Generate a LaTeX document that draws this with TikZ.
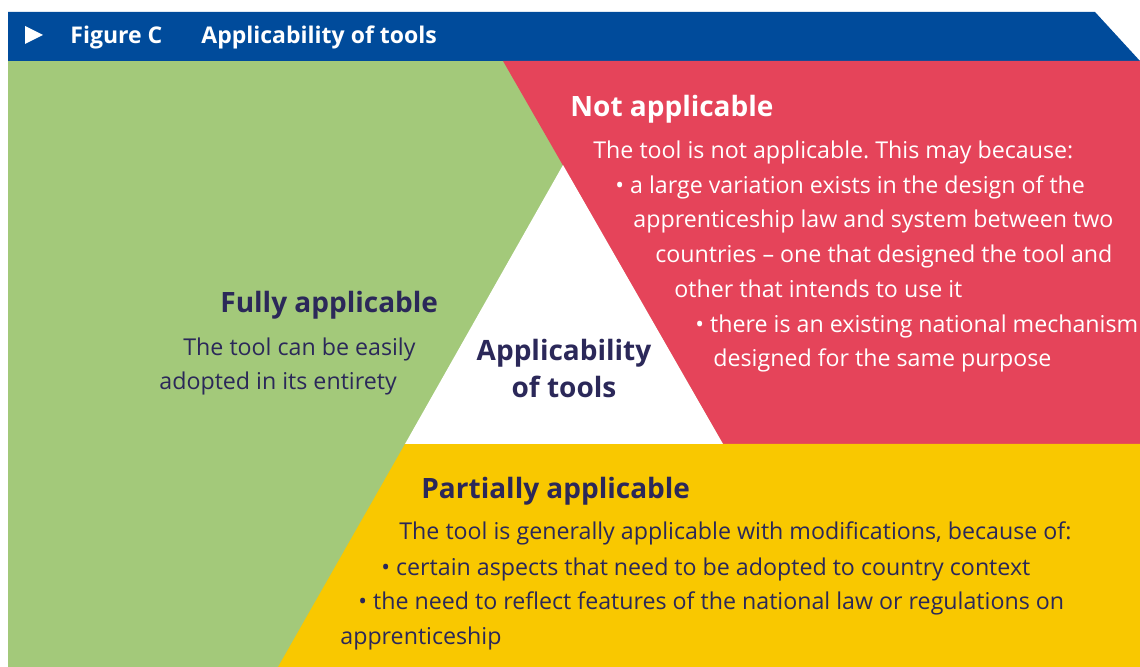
\documentclass[tikz,border=0pt]{standalone}
\usepackage{fontspec}
\setmainfont{Open Sans}
\usepackage{xcolor}
\usetikzlibrary{positioning}
\frenchspacing

\definecolor{figblue}{HTML}{004B9B}
\definecolor{figgreen}{HTML}{A3C97A}
\definecolor{figred}{HTML}{E5445A}
\definecolor{figyellow}{HTML}{F9C800}
\definecolor{figink}{HTML}{2B2859}

\begin{document}
\begin{tikzpicture}[
    x=0.5pt, y=-0.5pt,
    header_text/.style={anchor=base west, inner sep=0pt, text=white, font=\fontsize{11.5}{13}\selectfont\bfseries},
    heading/.style={anchor=base west, inner sep=0pt, font=\fontsize{14}{16}\selectfont\bfseries},
    body_line/.style={anchor=base west, inner sep=0pt, font=\fontsize{11.6}{14}\selectfont},
    hub_label/.style={anchor=base, inner sep=0pt, text=figink, font=\fontsize{14}{16}\selectfont\bfseries}
]

    % --- FRAME ---
    \useasboundingbox (0,0) rectangle (1140,667);

    % --- HEADER BAR ---
    \fill[figblue] (8,12) -- (1095,12) -- (1140,61) -- (8,61) -- cycle;
    \fill[white] (25,26) -- (43,35) -- (25,44) -- cycle;
    \node[header_text] (figno) at (70,44) {Figure C};
    \node[header_text] (figtitle) at (201,44) {Applicability of tools};

    % --- REGIONS ---
    \fill[figgreen] (8,61) rectangle (1140,667);                            % fully
    \fill[figred] (503,61) -- (1140,61) -- (1140,444) -- (723,444) -- cycle;  % not
    \fill[figyellow] (405,444) -- (1140,444) -- (1140,667) -- (278,667) -- cycle; % partially
    \fill[white] (563,165) -- (723,444) -- (405,444) -- cycle;               % hub

    % --- NOT APPLICABLE (red) ---
    \node[heading, text=white] (nothead) at (570,117) {Not applicable};
    \node[body_line, text=white] (not1) at (593,159) {The tool is not applicable. This may because:};
    \node[body_line, text=white] (not2) at (615,194) {• a large variation exists in the design of the};
    \node[body_line, text=white] (not3) at (633,228) {apprenticeship law and system between two};
    \node[body_line, text=white] (not4) at (655,263) {countries – one that designed the tool and};
    \node[body_line, text=white] (not5) at (674,298) {other that intends to use it};
    \node[body_line, text=white] (not6) at (695,333) {• there is an existing national mechanism};
    \node[body_line, text=white] (not7) at (713,367) {designed for the same purpose};

    % --- FULLY APPLICABLE (green) ---
    \node[heading, text=figink] (fullhead) at (220,313) {Fully applicable};
    \node[body_line, text=figink] (full1) at (183,356) {The tool can be easily};
    \node[body_line, text=figink] (full2) at (159,390) {adopted in its entirety};

    % --- HUB ---
    \node[hub_label] (hub1) at (564,361) {Applicability};
    \node[hub_label] (hub2) at (564,398) {of tools};

    % --- PARTIALLY APPLICABLE (yellow) ---
    \node[heading, text=figink] (parthead) at (421,499) {Partially applicable};
    \node[body_line, text=figink] (part1) at (399,540) {The tool is generally applicable with modifications, because of:};
    \node[body_line, text=figink] (part2) at (381,575) {• certain aspects that need to be adopted to country context};
    \node[body_line, text=figink] (part3) at (358,610) {• the need to reflect features of the national law or regulations on};
    \node[body_line, text=figink] (part4) at (340,644) {apprenticeship};

\end{tikzpicture}
\end{document}
